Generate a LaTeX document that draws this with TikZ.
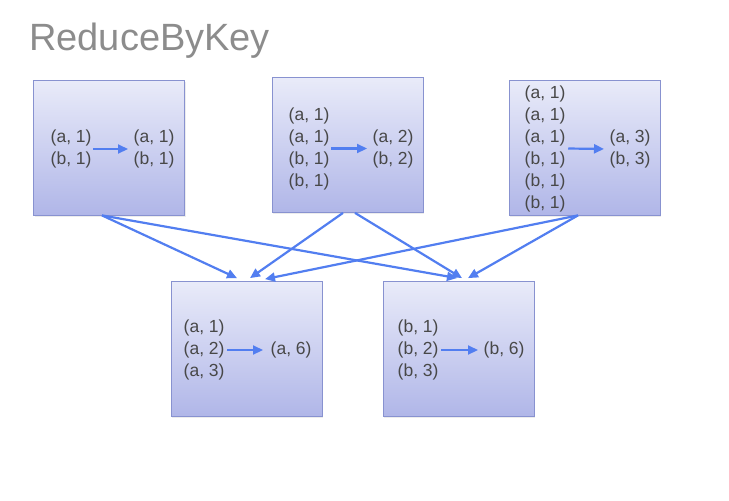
\documentclass[tikz,border=0pt]{standalone}
\usepackage{fontspec}
\setmainfont{Liberation Sans}
\usetikzlibrary{arrows.meta, shadows}
\definecolor{flowblue}{RGB}{82, 126, 240}
\definecolor{boxtop}{RGB}{233, 235, 249}
\definecolor{boxbot}{RGB}{176, 182, 232}
\definecolor{boxline}{RGB}{136, 146, 208}
\definecolor{textgray}{RGB}{72, 72, 72}
\definecolor{titlegray}{RGB}{140, 140, 140}

\begin{document}
\begin{tikzpicture}[x=1pt, y=-1pt,
  box/.style={draw=boxline, line width=0.8pt, top color=boxtop, bottom color=boxbot, minimum width=151pt, minimum height=135pt, drop shadow={opacity=0.15, shadow xshift=1pt, shadow yshift=-1.5pt}},
  pairs/.style={font=\fontsize{17.5}{22}\selectfont, text=textgray, align=left, inner sep=0.5pt, anchor=west},
  flow/.style={-{Triangle[length=10pt, width=9pt]}, line width=2.2pt, flowblue}
]
  \useasboundingbox (0, 0) rectangle (729, 501);

  % Title
  \node[font=\fontsize{38}{40}\selectfont, text=titlegray, anchor=base west, inner sep=0pt] (title) at (29, 50) {ReduceByKey};

  % Map side
  \node[box] (map1) at (109, 147.5) {};
  \node[box] (map2) at (347.5, 145) {};
  \node[box] (map3) at (584.5, 147.5) {};

  % Reduce side
  \node[box] (red1) at (246.5, 349) {};
  \node[box] (red2) at (458.5, 349) {};

  % Pairs in each box
  \node[pairs] (in1) at (50, 149) {(a, 1)\\(b, 1)};
  \node[pairs] (out1) at (133, 149) {(a, 1)\\(b, 1)};
  \node[pairs] (in2) at (288, 148.5) {(a, 1)\\(a, 1)\\(b, 1)\\(b, 1)};
  \node[pairs] (out2) at (372, 148.5) {(a, 2)\\(b, 2)};
  \node[pairs] (in3) at (524, 148.5) {(a, 1)\\(a, 1)\\(a, 1)\\(b, 1)\\(b, 1)\\(b, 1)};
  \node[pairs] (out3) at (609, 149) {(a, 3)\\(b, 3)};
  \node[pairs] (in4) at (183, 350) {(a, 1)\\(a, 2)\\(a, 3)};
  \node[pairs] (out4) at (270, 350) {(a, 6)};
  \node[pairs] (in5) at (397, 350) {(b, 1)\\(b, 2)\\(b, 3)};
  \node[pairs] (out5) at (483, 350) {(b, 6)};

  \draw[flow, shorten <=1pt, shorten >=5pt] (in1.east) -- (out1.west);
  \draw[flow, shorten <=1pt, shorten >=5pt] (in2.east) -- (out2.west);
  \draw[flow, shorten <=2pt, shorten >=5pt] (in3.east) -- (out3.west);
  \draw[flow, shorten <=2pt, shorten >=7pt] (in4.east) -- (out4.west);
  \draw[flow, shorten <=2pt, shorten >=5pt] (in5.east) -- (out5.west);

  % Shuffle
  \draw[flow] ([xshift=-7pt]map1.south) -- ([xshift=-9.5pt, yshift=3pt]red1.north);
  \draw[flow] ([xshift=-7pt]map1.south) -- ([xshift=-1.5pt, yshift=3pt]red2.north);
  \draw[flow] ([xshift=-4.5pt]map2.south) -- ([xshift=3.5pt, yshift=3pt]red1.north);
  \draw[flow] ([xshift=7.5pt]map2.south) -- ([xshift=3.5pt, yshift=3pt]red2.north);
  \draw[flow] ([xshift=-6.5pt]map3.south) -- ([xshift=18.5pt, yshift=2pt]red1.north);
  \draw[flow] ([xshift=-6.5pt]map3.south) -- ([xshift=9.5pt, yshift=3pt]red2.north);
\end{tikzpicture}
\end{document}
